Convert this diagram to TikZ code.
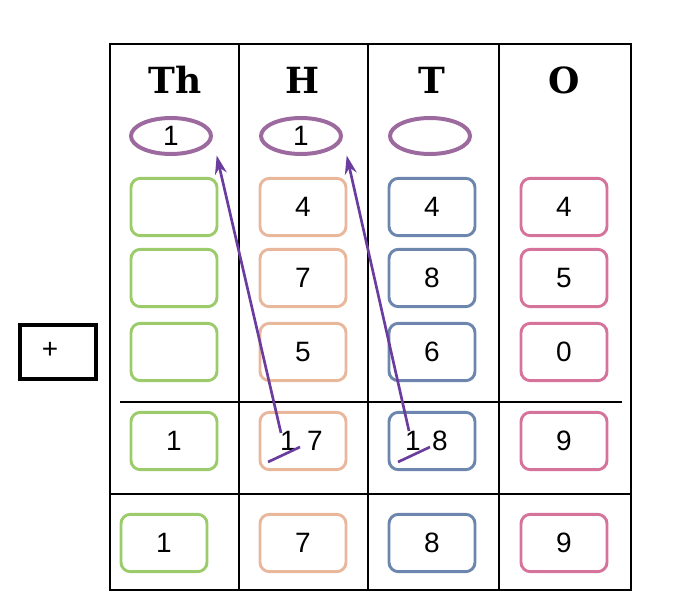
\documentclass[tikz,border=0pt]{standalone}
\usepackage{fontspec}
\setmainfont{Liberation Sans}
\newfontfamily\headfont{DejaVu Serif}
\definecolor{cgreen}{HTML}{9CCB6C}
\definecolor{cpeach}{HTML}{E9B79C}
\definecolor{cblue}{HTML}{6C86AE}
\definecolor{cpink}{HTML}{D5739B}
\definecolor{coval}{HTML}{9C6A9E}
\definecolor{arrowpurple}{HTML}{6A3C9E}
\tikzset{
  digbox/.style={draw=#1, line width=2.2pt, rounded corners=7pt, minimum width=64.5pt, minimum height=43pt, font=\fontsize{21}{21}\selectfont},
  carry/.style={draw=coval, line width=3pt, ellipse, minimum width=60pt, minimum height=27pt, inner sep=0pt, font=\fontsize{21}{21}\selectfont},
  head/.style={font=\headfont\bfseries\fontsize{27}{27}\selectfont},
  frame/.style={line width=1.6pt},
  carryline/.style={draw=arrowpurple, line width=2pt},
  carryarrow/.style={carryline, -{Stealth[length=14pt,width=9pt]}}
}
\usetikzlibrary{shapes.geometric,arrows.meta}
\begin{document}
\begin{tikzpicture}[x=0.75pt,y=-0.75pt]
\useasboundingbox (0,0) rectangle (678,614);
% table frame
\draw[frame] (110,44) rectangle (631,494);
\foreach \x in {239,368,499} \draw[frame] (\x,44) -- (\x,494);
\draw[frame] (110,494) rectangle (631,590);
\foreach \x in {239,368,499} \draw[frame] (\x,494) -- (\x,590);
\draw[line width=2pt] (120,402) -- (622,402);
% plus box
\draw[line width=3pt] (20,325) rectangle (96,379);
\node[font=\fontsize{21}{21}\selectfont] (plus) at (50,350) {+};
% headers
\node[head] (hTh) at (175,80) {Th};
\node[head] (hH) at (303,80) {H};
\node[head] (hT) at (432,80) {T};
\node[head] (hO) at (564,80) {O};
% carries
\node[carry] (cTh) at (171,136) {1};
\node[carry] (cH) at (301,136) {1};
\node[carry] (cT) at (430,136) {};
% digit boxes
\foreach \y/\a/\b/\c/\d [count=\r] in {207//4/4/4, 278//7/8/5, 352//5/6/0, 441/1/{}/{}/9}{
  \node[digbox=cgreen] (th\r) at (174,\y) {\a};
  \node[digbox=cpeach] (h\r) at (303,\y) {\b};
  \node[digbox=cblue] (t\r) at (432,\y) {\c};
  \node[digbox=cpink] (o\r) at (564,\y) {\d};
}
\node[font=\fontsize{21}{21}\selectfont] (h4a) at (288,441) {1};
\node[font=\fontsize{21}{21}\selectfont] (h4b) at (315,441) {7};
\node[font=\fontsize{21}{21}\selectfont] (t4a) at (413,441) {1};
\node[font=\fontsize{21}{21}\selectfont] (t4b) at (440,441) {8};
% answer row
\node[digbox=cgreen] (th5) at (164,543) {1};
\node[digbox=cpeach] (h5) at (303,543) {7};
\node[digbox=cblue] (t5) at (432,543) {8};
\node[digbox=cpink] (o5) at (564,543) {\raisebox{-4pt}{9}};
% crossings and carry arrows
\draw[carryline] (268,462) -- (300,447);
\draw[carryline] (398,462) -- (430,447);
\coordinate (s1) at (281,433);
\coordinate (s2) at (409,431);
\draw[carryarrow] (s1) -- ([shift={(12pt,-4pt)}]cTh.south east);
\draw[carryarrow] (s2) -- ([shift={(12pt,-4pt)}]cH.south east);
\end{tikzpicture}
\end{document}
